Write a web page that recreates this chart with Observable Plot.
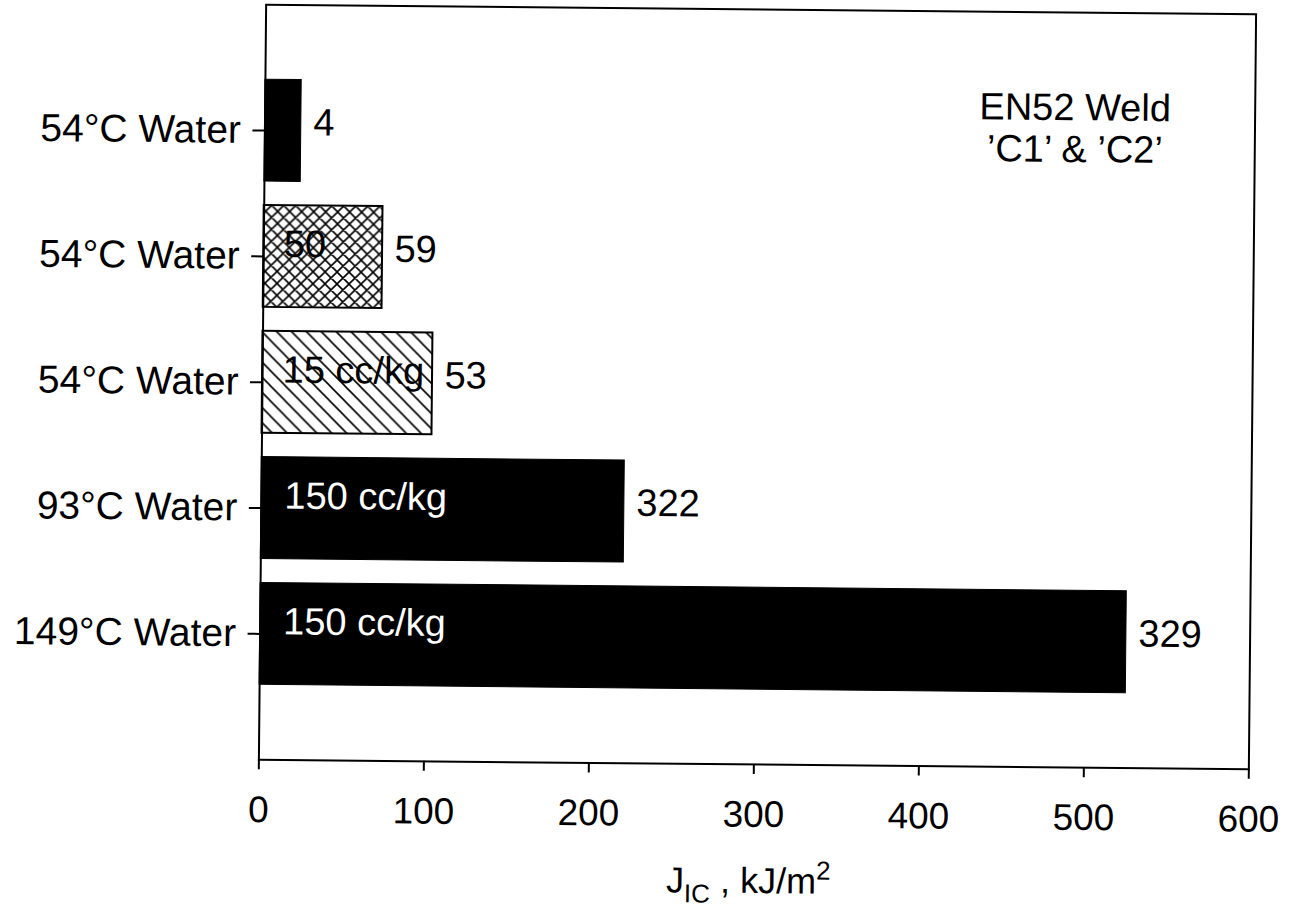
<!DOCTYPE html>
<html><head><meta charset="utf-8">
<script src="https://cdn.jsdelivr.net/npm/d3@7"></script>
<script src="https://cdn.jsdelivr.net/npm/@observablehq/plot@0.6"></script>
<style>
body{margin:0;background:#fff;}
#chart{width:1296px;height:912px;overflow:hidden;background:#fff;}
#chart svg{transform:rotate(0.55deg);transform-origin:757px 386px;}
</style>
</head><body><div id="chart"></div>
<script>
// ---- data ----
const categories = ["149°C Water", "93°C Water", "54°C Water", "54°C Water", "54°C Water"];
const jicValues = [525, 220, 103, 72, 22];
const endLabels = ["329", "322", "53", "59", "4"];
const innerLabels = ["150 cc/kg", "150 cc/kg", "15 cc/kg", "50", ""];
const fillKinds = ["solid", "solid", "diagonal", "crosshatch", "solid"];
const xTicks = [0, 100, 200, 300, 400, 500, 600];
const annotation = "EN52 Weld\n’C1’ & ’C2’";

const rows = categories.map((c, i) => ({
  pos: i + 1, category: c, value: jicValues[i],
  end: endLabels[i], inner: innerLabels[i], kind: fillKinds[i]
}));
const half = 0.405;
const fillFor = {solid: "black", diagonal: "url(#diag)", crosshatch: "url(#cross)"};

const barMark = kind => Plot.rectX(rows.filter(d => d.kind === kind), {
  x1: 0, x2: "value",
  y1: d => d.pos - half, y2: d => d.pos + half,
  fill: fillFor[kind], stroke: "black", strokeWidth: kind === "solid" ? 1 : 2
});

const FONT = "'Liberation Sans', Arial, Helvetica, sans-serif";

const svg = Plot.plot({
  width: 1296, height: 912,
  marginLeft: 262, marginRight: 44, marginTop: 9, marginBottom: 148,
  style: {fontFamily: FONT, color: "black", background: "white"},
  x: {domain: [0, 600]},
  y: {domain: [0, 6]},
  marks: [
    barMark("solid"), barMark("diagonal"), barMark("crosshatch"),
    Plot.text(rows.filter(d => d.kind === "solid"), {
      x: 0, y: "pos", text: "inner", textAnchor: "start", dx: 23, dy: -12,
      fontSize: 38, fill: "white"
    }),
    Plot.text(rows.filter(d => d.kind !== "solid"), {
      x: 0, y: "pos", text: "inner", textAnchor: "start", dx: 20, dy: -12,
      fontSize: 38, fill: "black"
    }),
    Plot.text(rows, {
      x: "value", y: "pos", text: "end", textAnchor: "start", dx: 12, dy: -8,
      fontSize: 38, fill: "black"
    }),
    Plot.text([annotation], {
      frameAnchor: "top-right", textAnchor: "middle", lineAnchor: "top",
      dx: -180, dy: 78, fontSize: 38, lineHeight: 1.1, fill: "black"
    }),
    Plot.axisX({ticks: xTicks, tickSize: 10, tickPadding: 26, fontSize: 37, label: null, strokeWidth: 2}),
    Plot.axisY({ticks: [1, 2, 3, 4, 5], tickFormat: d => categories[d - 1],
      tickSize: 12, tickPadding: 12, fontSize: 39, label: null, strokeWidth: 2}),
    Plot.frame({stroke: "black", strokeWidth: 2})
  ]
});

// hatch patterns
const sel = d3.select(svg);
const defs = sel.insert("defs", ":first-child");
const diag = defs.append("pattern").attr("id", "diag").attr("patternUnits", "userSpaceOnUse")
  .attr("width", 15).attr("height", 15);
diag.append("rect").attr("width", 15).attr("height", 15).attr("fill", "white");
diag.append("path").attr("d", "M0,0L15,15M-5,10L5,20M10,-5L20,5")
  .attr("stroke", "black").attr("stroke-width", 1.6);
const cross = defs.append("pattern").attr("id", "cross").attr("patternUnits", "userSpaceOnUse")
  .attr("width", 12).attr("height", 12);
cross.append("rect").attr("width", 12).attr("height", 12).attr("fill", "white");
cross.append("path").attr("d", "M0,0L12,12M-4,8L4,16M8,-4L16,4M0,12L12,0M-4,4L4,-4M8,16L16,8")
  .attr("stroke", "black").attr("stroke-width", 1.6);

// x-axis title with subscript and superscript
const t = sel.append("text")
  .attr("x", 753).attr("y", 893)
  .attr("text-anchor", "middle").attr("fill", "black")
  .style("font-family", FONT).style("font-size", "36px");
t.append("tspan").text("J");
t.append("tspan").style("font-size", "26px").attr("dy", 10).text("IC");
t.append("tspan").attr("dy", -10).text(" , kJ/m");
t.append("tspan").style("font-size", "26px").attr("dy", -14).text("2");

document.getElementById("chart").appendChild(svg);
</script>
</body></html>
